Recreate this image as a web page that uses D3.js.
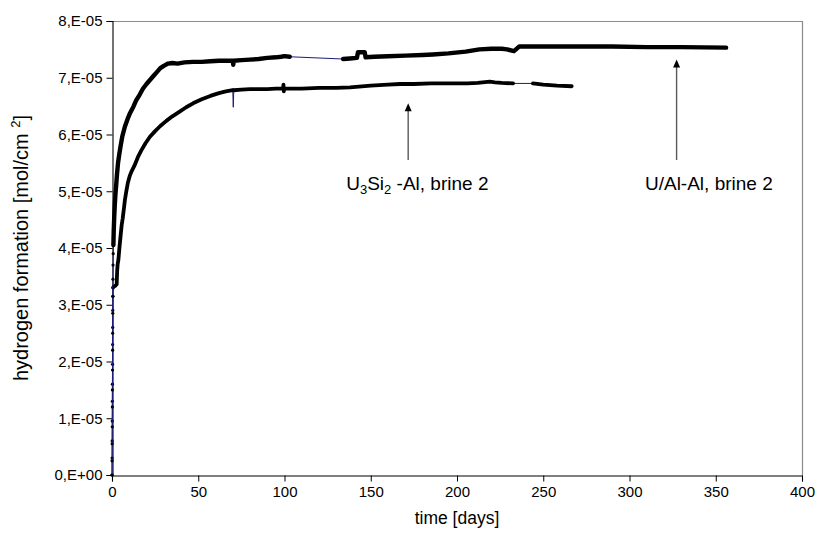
<!DOCTYPE html>
<html><head><meta charset="utf-8">
<script src="https://cdn.jsdelivr.net/npm/d3@7"></script>
<style>body{margin:0;background:#fff}text{font-family:"Liberation Sans",Arial,sans-serif;fill:#000}</style>
</head><body><svg id="c" width="817" height="541"></svg>
<script>
// ---- data (values in units of 1E-05 mol/cm2) ----
const xTicks = [0, 50, 100, 150, 200, 250, 300, 350, 400];
const yTicks = [0, 1, 2, 3, 4, 5, 6, 7, 8];
const yTickLabels = ["0,E+00","1,E-05","2,E-05","3,E-05","4,E-05","5,E-05","6,E-05","7,E-05","8,E-05"];

// U/Al-Al, brine 2 : [day, value]
const uAl = [[0,0],[0.05,0.25],[0.1,0.55],[0.15,0.85],[0.2,1.2],[0.25,1.5],[0.3,1.85],[0.35,2.2],[0.4,2.5],[0.45,2.85],[0.5,3.15],[0.55,3.45],[0.6,3.7],[0.7,3.9],
 [0.8,4.05],[1.0,4.3],[1.3,4.55],[1.6,4.75],[2.0,4.95],[2.4,5.1],[2.9,5.3],[3.5,5.5],[4.2,5.65],[5.0,5.8],[6.0,5.97],[7.5,6.14],[9.0,6.27],[10.5,6.38],[12.4,6.49],
 [14,6.6],[16,6.7],[18,6.81],[20,6.89],[22,6.96],[24,7.03],[26,7.1],[28,7.17],[30,7.21],[32.5,7.25],[35,7.26],[38,7.25],[42,7.27],[47,7.28],[52,7.28],[57,7.29],
 [62,7.3],[66,7.3],[70,7.3],[70.3,7.23],[70.6,7.3],[75,7.31],[80,7.32],[85,7.33],[90,7.35],[95,7.36],[98,7.37],[100,7.38],[103,7.37],
 [134,7.33],[138,7.34],[142,7.35],[142.6,7.45],[146.5,7.45],[147,7.36],[152,7.37],[160,7.38],[170,7.39],[180,7.4],[186,7.41],[195,7.43],[205,7.46],[213,7.5],
 [220,7.51],[226,7.51],[229,7.5],[233,7.47],[236,7.55],[250,7.55],[270,7.55],[290,7.55],[310,7.54],[330,7.54],[356,7.53]];
const uAlRuns = [[0.8, 103], [134, 356]];

// U3Si2-Al, brine 2 : [day, value]
const u3si2 = [[0,0],[0.05,0.3],[0.1,0.6],[0.15,0.95],[0.2,1.3],[0.25,1.6],[0.3,1.95],[0.35,2.3],[0.4,2.6],[0.45,2.9],[0.5,3.15],
 [0.6,3.3],[1.0,3.32],[1.8,3.33],[2.7,3.36],[3.0,3.6],[3.3,3.72],[3.7,3.79],[4.3,4.0],[5.0,4.22],[5.6,4.4],[6.2,4.52],[7.0,4.72],[7.5,4.85],[8.3,5.0],
 [9.2,5.15],[10.4,5.28],[11.5,5.36],[13,5.45],[15,5.6],[17,5.72],[19.5,5.85],[22,5.96],[25,6.06],[28,6.15],[31.5,6.24],[35,6.32],[39,6.4],[43,6.48],
 [47,6.55],[52,6.62],[57,6.68],[62,6.73],[66,6.76],[70,6.78],[70.3,6.48],[70.6,6.78],[75,6.79],[80,6.8],[85,6.8],[90,6.8],[95,6.81],
 [99.2,6.81],[99.4,6.88],[99.6,6.76],[99.8,6.81],[105,6.81],[110,6.81],[120,6.82],[130,6.82],[138,6.83],[150,6.86],[160,6.88],[167,6.89],[175,6.89],
 [185,6.9],[195,6.9],[206,6.9],[212,6.91],[219,6.93],[222,6.92],[226,6.91],[232.5,6.9],[244,6.9],[250,6.88],[258,6.86],[266.5,6.85]];
const u3si2Runs = [[0.6, 70.0], [70.6, 232.5], [244, 266.5]];

// annotations: arrow tip [day, value], arrow tail value, label centre day, label baseline value
const annDays = [171.7, 327.3];
const annTipVals = [6.55, 7.32];
const annTailVals = [5.55, 5.55];
const annTextDays = [177, 346];
const annTextVals = [5.02, 5.02];

// ---- layout ----
const W = 817, H = 541;
const m = {l:112, r:15, t:21, b:66};
const svg = d3.select("#c");
const x = d3.scaleLinear().domain([0,400]).range([m.l, W - m.r]);
const y = d3.scaleLinear().domain([0,8]).range([H - m.b, m.t]);
const FS_TICK = 15, FS_XT = 17.5, FS_YT = 20, FS_ANN = 19;

// plot frame (top/right gray)
svg.append("line").attr("x1", x(0)).attr("x2", x(400)).attr("y1", y(8)+0.5).attr("y2", y(8)+0.5).attr("stroke","#8c8c8c").attr("stroke-width",1.2);
svg.append("line").attr("x1", x(400)+0.5).attr("x2", x(400)+0.5).attr("y1", y(8)).attr("y2", y(0)).attr("stroke","#8c8c8c").attr("stroke-width",1.2);

// axes
const xAxis = d3.axisBottom(x).tickValues(xTicks).tickSize(6).tickPadding(5).tickFormat(d3.format("d"));
const gx = svg.append("g").attr("transform", `translate(0,${y(0)+0.5})`).call(xAxis);
const yAxis = d3.axisLeft(y).tickValues(yTicks).tickSize(6).tickPadding(4).tickFormat((d,i)=>yTickLabels[i]);
const gy = svg.append("g").attr("transform", `translate(${x(0)+0.5},0)`).call(yAxis);
[gx, gy].forEach(g => {
  g.select(".domain").attr("stroke","#000").attr("stroke-width",1.1);
  g.selectAll(".tick line").attr("stroke","#000");
  g.selectAll(".tick text").attr("font-size", FS_TICK).attr("font-family","Liberation Sans, Arial, sans-serif");
});

// axis titles
svg.append("text").attr("x", x(200)).attr("y", H - 17).attr("text-anchor","middle").attr("font-size", FS_XT).text("time [days]");
const yl = svg.append("text").attr("transform", `translate(21,${(y(0)+y(8))/2}) rotate(-90)`).attr("text-anchor","middle").attr("dy","0.35em").attr("font-size", FS_YT);
yl.append("tspan").text("hydrogen formation [mol/cm ");
yl.append("tspan").attr("font-size", 13).attr("dy", -8).text("2");
yl.append("tspan").attr("dy", 8).text("]");

// series drawing
const line = d3.line().x(d => x(d[0])).y(d => y(d[1]));
function drawSeries(data, runs, w) {
  svg.append("path").attr("d", line(data)).attr("fill","none").attr("stroke","#1c1c7a").attr("stroke-width",1);
  const firstRun = runs[0][0];
  svg.selectAll(null).data(data.filter(d => d[0] < firstRun)).enter().append("circle")
    .attr("cx", d => x(d[0])).attr("cy", d => y(d[1])).attr("r", 1.6).attr("fill","#000");
  runs.forEach(r => {
    const seg = data.filter(d => d[0] >= r[0] && d[0] <= r[1]);
    svg.append("path").attr("d", line(seg)).attr("fill","none").attr("stroke","#000")
      .attr("stroke-width", w).attr("stroke-linejoin","round").attr("stroke-linecap","round");
  });
}
drawSeries(u3si2, u3si2Runs, 3.8);
drawSeries(uAl, uAlRuns, 4.4);

// annotations
const labels = [
  [["U",0],["3",1],["Si",0],["2",1],[" -Al, brine 2",0]],
  [["U/Al-Al, brine 2",0]]
];
annDays.forEach((d,i) => {
  const ax = x(d), tipY = y(annTipVals[i]), tailY = y(annTailVals[i]);
  svg.append("line").attr("x1", ax).attr("x2", ax).attr("y1", tailY).attr("y2", tipY + 6).attr("stroke","#595959").attr("stroke-width",1.4);
  svg.append("path").attr("d", `M${ax},${tipY} L${ax-3.5},${tipY+8} L${ax+3.5},${tipY+8} Z`).attr("fill","#000");
  const t = svg.append("text").attr("x", x(annTextDays[i])).attr("y", y(annTextVals[i])).attr("text-anchor","middle").attr("font-size", FS_ANN);
  let sub = 0;
  labels[i].forEach(p => {
    const ts = t.append("tspan").text(p[0]);
    if (p[1] && !sub) { ts.attr("dy", 4).attr("font-size", 13); sub = 1; }
    else if (p[1] && sub) { ts.attr("font-size", 13); }
    else if (!p[1] && sub) { ts.attr("dy", -4); sub = 0; }
  });
});
</script></body></html>
